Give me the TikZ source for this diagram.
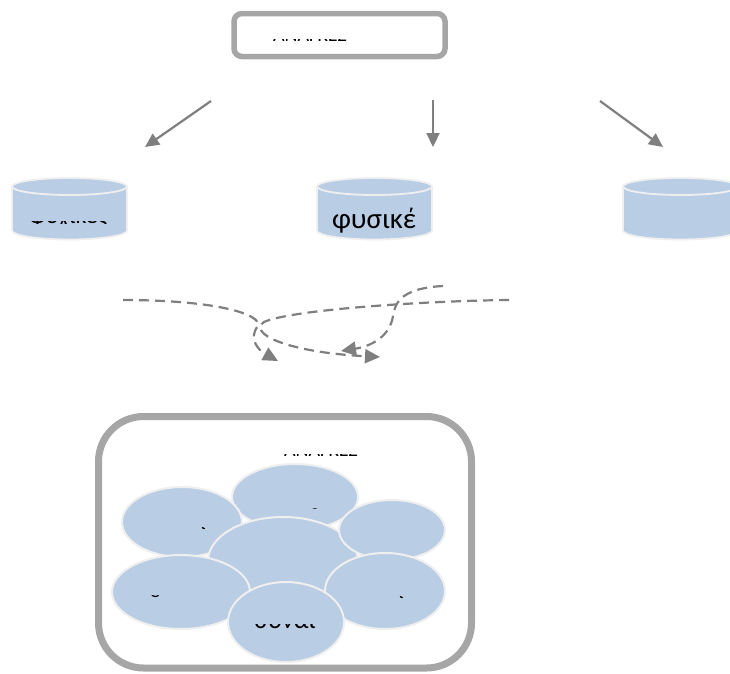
\documentclass[tikz,border=0pt]{standalone}
\usepackage{fontspec}
\setmainfont{Carlito}
\usetikzlibrary{arrows.meta,shapes.geometric}
\definecolor{framegray}{HTML}{A6A6A6}
\definecolor{linkgray}{HTML}{7F7F7F}
\definecolor{softblue}{HTML}{B9CDE5}
\definecolor{rimwhite}{HTML}{EFEFEF}

% text seen through a narrow window: x, baseline, window top, window bottom, size, name, text
\newcommand{\peek}[7]{%
  \begin{scope}
    \clip (#1-70,#3) rectangle (#1+70,#4);
    \node[anchor=base, inner sep=0pt, font=\fontsize{#5}{#5}\selectfont] (#6) at (#1,#2) {#7};
  \end{scope}}
% same, with a small window of its own: x1, x2, y1, y2, anchor x, baseline, size, name, text
\newcommand{\speck}[9]{%
  \begin{scope}
    \clip (#1,#3) rectangle (#2,#4);
    \node[anchor=base, inner sep=0pt, font=\fontsize{#7}{#7}\selectfont] (#8) at (#5,#6) {#9};
  \end{scope}}

\begin{document}
\begin{tikzpicture}[x=1pt,y=-1pt,
  frame/.style={draw=framegray, fill=white, inner sep=0pt},
  link/.style={draw=linkgray, line width=2.2pt, -{Triangle[length=14pt,width=13pt]}},
  dashlink/.style={link, dash pattern=on 10pt off 6pt, -{Triangle[length=15pt,width=14pt]}},
  blob/.style={ellipse, draw=rimwhite, line width=2pt, fill=softblue, inner sep=0pt},
  drumrim/.style={draw=rimwhite, line width=1.8pt}]
\useasboundingbox (0,0) rectangle (730,673);

% heading box
\node[frame, line width=5.5pt, rounded corners=8pt, minimum width=211pt, minimum height=43pt] (head) at (339.5,35) {};
\peek{310}{41.5}{39.8}{41.3}{20}{headtxt}{ΑΝΑΓΚΕΣ}

% three drums
\foreach \nm/\x in {drumL/12, drumM/317, drumR/623}{
  \pgfmathsetmacro{\cx}{\x+57.5}
  \filldraw[drumrim, fill=softblue] (\cx,230.5) ellipse (57.5pt and 9pt);
  \fill[softblue] (\x,186.5) rectangle (\x+115,230.5);
  \draw[drumrim] (\x,186.5) -- (\x,230.5) (\x+115,186.5) -- (\x+115,230.5);
  \filldraw[drumrim, fill=softblue] (\cx,186.5) ellipse (57.5pt and 8.5pt);
  \coordinate (\nm) at (\cx,208);
}
\peek{68}{223.5}{221.8}{223.4}{24}{drumLtxt}{ψυχικές}
\node[anchor=base, inner sep=0pt, font=\fontsize{29}{29}\selectfont] (drumMtxt) at (374,228) {φυσικέ};

% solid arrows from the heading to the drums
\coordinate (aLs) at (211,101); \coordinate (aLe) at (145,147);
\coordinate (aMs) at (433,100); \coordinate (aMe) at (433,147);
\coordinate (aRs) at (600,101); \coordinate (aRe) at (663,147);
\draw[link] (aLs) -- (aLe);
\draw[link] (aMs) -- (aMe);
\draw[link] (aRs) -- (aRe);

% dashed crossing links
\coordinate (d1s) at (123,300); \coordinate (d1e) at (278,361);
\coordinate (d2s) at (509,300); \coordinate (d2e) at (380,357);
\coordinate (d3s) at (443,286); \coordinate (d3e) at (341,351);
\draw[dashlink] (d1s) .. controls (215,300) and (262,314) .. (258,326)
                      .. controls (248,338) and (258,350) .. (d1e);
\draw[dashlink] (d2s) .. controls (420,301) and (290,310) .. (264,322)
                      .. controls (248,333) and (285,352) .. (d2e);
\draw[dashlink] (d3s) .. controls (405,288) and (395,300) .. (393,316)
                      .. controls (390,336) and (372,346) .. (d3e);

% lower panel
\node[frame, line width=7pt, rounded corners=45pt, minimum width=373pt, minimum height=251.5pt] (panel) at (285,542.25) {};
\peek{321}{456.5}{454.8}{456.3}{20}{paneltxt}{ΑΝΑΓΚΕΣ}

% cluster of ellipses
\node[blob, minimum width=126pt, minimum height=66pt] (e2) at (295,497) {};
\node[blob, minimum width=120pt, minimum height=70pt] (e1) at (182,522) {};
\node[blob, minimum width=150pt, minimum height=88pt] (e3) at (283,561) {};
\node[blob, minimum width=106pt, minimum height=60pt] (e4) at (392,530) {};
\node[blob, minimum width=138pt, minimum height=74pt] (e5) at (181,592) {};
\node[blob, minimum width=120pt, minimum height=76pt] (e6) at (385,591) {};
\node[blob, minimum width=116pt, minimum height=80pt] (e7) at (286,622) {};

\speck{201}{205}{527.3}{529.3}{203}{529.5}{18}{e1txt}{ι}
\speck{309}{321}{506.3}{508.8}{315}{518}{20}{e2txt}{ο}
\speck{148}{161}{595.8}{597.5}{155}{597.5}{20}{e5txt}{ε}
\speck{397}{405}{596.3}{598}{401}{598}{18}{e6txt}{ι}
\speck{250}{322}{624.2}{628.6}{285}{628.8}{26}{e7txt}{συναι}

\end{tikzpicture}
\end{document}
